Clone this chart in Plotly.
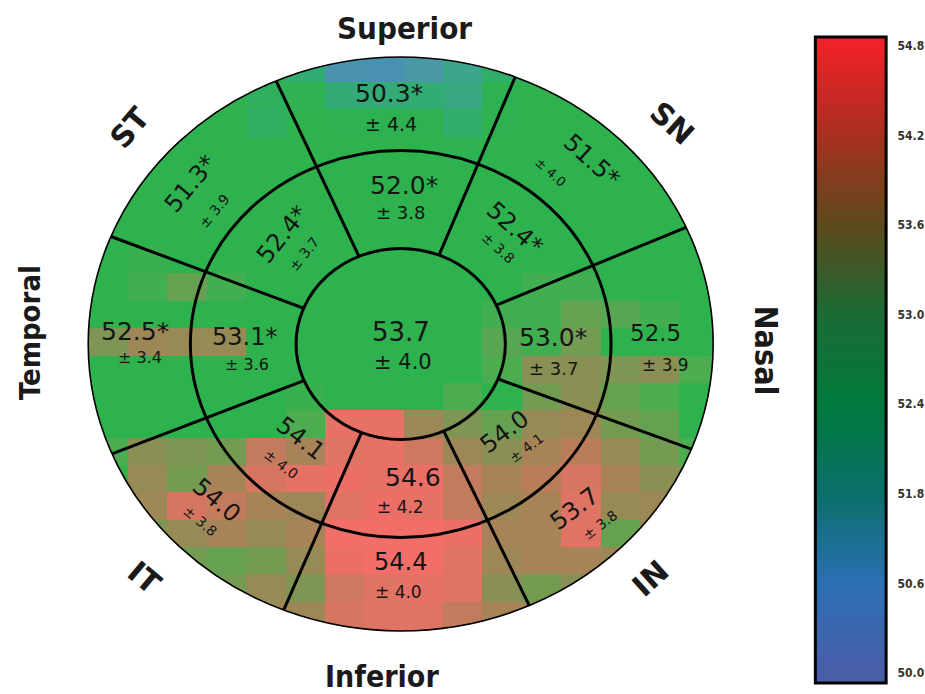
import numpy as np
import plotly.graph_objects as go

W, H = 925, 694
CX, CY = 402.0, 344.0          # ellipse centre (page pixels)

# ---------------- data ----------------
# pixel-map values (rows top -> bottom, columns left -> right)
map_rows = [
    [52.5, 52.5, 52.5, 52.5, 52.5, 51.6, 50.3, 50.2, 50.5, 51.0, 51.8, 52.5, 52.5, 52.5, 52.5, 52.5],
    [52.5, 52.5, 52.5, 52.5, 52.0, 52.2, 51.5, 51.5, 51.6, 51.3, 52.3, 52.5, 52.5, 52.5, 52.5, 52.5],
    [52.5, 52.5, 52.5, 52.5, 51.9, 52.5, 52.4, 52.4, 52.4, 51.7, 52.4, 52.5, 52.5, 52.5, 52.5, 52.5],
    [52.5, 52.5, 52.5, 52.5, 52.5, 52.5, 52.5, 52.5, 52.5, 52.2, 52.5, 52.5, 52.5, 52.5, 52.5, 52.5],
    [52.5, 52.5, 52.5, 52.5, 52.5, 52.5, 52.5, 52.5, 52.5, 52.5, 52.5, 52.5, 52.5, 52.5, 52.5, 52.5],
    [52.5, 52.5, 52.5, 52.5, 52.5, 52.5, 52.5, 52.5, 52.5, 52.5, 52.5, 52.5, 52.5, 52.5, 52.5, 52.5],
    [52.5, 52.5, 52.5, 52.5, 52.5, 52.5, 52.5, 52.5, 52.5, 52.5, 52.5, 52.5, 52.5, 52.5, 52.5, 52.5],
    [52.5, 52.8, 52.5, 52.5, 52.5, 52.5, 52.5, 52.5, 52.5, 52.5, 52.5, 52.5, 52.5, 52.5, 52.5, 52.5],
    [52.5, 52.9, 53.2, 52.9, 52.5, 52.5, 52.5, 52.5, 52.5, 52.5, 52.5, 52.9, 52.9, 52.5, 52.5, 52.5],
    [52.5, 52.5, 52.5, 52.5, 52.5, 52.5, 52.5, 52.5, 52.5, 52.5, 52.9, 52.9, 53.2, 53.1, 52.9, 52.5],
    [53.4, 53.7, 53.6, 53.6, 52.5, 52.5, 52.5, 52.5, 52.5, 52.5, 53.1, 52.9, 53.3, 52.5, 52.5, 52.5],
    [52.5, 52.5, 52.5, 52.5, 52.5, 52.5, 52.5, 52.5, 52.5, 52.5, 53.0, 53.5, 53.5, 53.4, 53.5, 53.0],
    [52.5, 52.5, 52.5, 52.5, 52.5, 52.8, 52.5, 52.5, 52.5, 53.0, 52.5, 53.3, 53.5, 53.2, 53.0, 52.5],
    [52.5, 52.5, 52.5, 52.5, 52.5, 53.0, 54.5, 54.5, 53.7, 53.4, 53.2, 53.6, 53.7, 53.3, 53.2, 52.5],
    [53.0, 53.5, 53.4, 53.3, 54.1, 53.8, 54.4, 54.5, 54.2, 53.7, 53.5, 53.8, 54.0, 53.6, 53.3, 53.0],
    [52.8, 53.6, 53.3, 53.8, 54.3, 54.5, 54.6, 54.5, 54.6, 54.1, 53.8, 54.0, 54.3, 53.8, 53.5, 53.3],
    [53.5, 53.7, 54.3, 54.1, 53.8, 53.7, 54.4, 54.6, 54.5, 54.1, 53.7, 53.8, 54.4, 53.6, 53.7, 53.5],
    [53.4, 53.4, 53.6, 53.8, 53.6, 53.8, 54.7, 54.7, 54.7, 54.6, 53.8, 53.8, 54.4, 53.2, 53.6, 53.5],
    [53.4, 53.4, 53.3, 53.2, 53.3, 53.6, 54.6, 54.7, 54.7, 54.4, 53.7, 53.8, 53.8, 53.7, 53.6, 53.5],
    [53.4, 53.4, 53.3, 53.3, 53.6, 53.4, 54.2, 54.4, 54.5, 54.4, 53.5, 53.3, 53.5, 53.5, 53.5, 53.5],
    [53.5, 53.5, 53.5, 53.5, 53.7, 53.7, 54.3, 54.4, 54.4, 54.1, 53.8, 53.7, 53.6, 53.5, 53.5, 53.5],
    [53.5, 53.5, 53.5, 53.5, 53.7, 53.7, 54.3, 54.4, 54.4, 54.1, 53.8, 53.7, 53.6, 53.5, 53.5, 53.5],
]

center_mean, center_sd = 53.7, 4.0
sector_names = ["Superior", "ST", "SN", "Temporal", "Nasal", "IT", "Inferior", "IN"]
inner_mean = [52.0, 52.4, 52.4, 53.1, 53.0, 54.1, 54.6, 54.0]
inner_sd = [3.8, 3.7, 3.8, 3.6, 3.7, 4.0, 4.2, 4.1]
inner_sig = [True, True, True, True, True, False, False, False]
outer_mean = [50.3, 51.3, 51.5, 52.5, 52.5, 54.0, 54.4, 53.7]
outer_sd = [4.4, 3.9, 4.0, 3.4, 3.9, 3.8, 4.0, 3.8]
outer_sig = [True, True, True, True, False, False, False, False]

cb_labels = ["50.0", "50.6", "51.8", "52.4", "53.0", "53.6", "54.2", "54.8"]
cb_colors = ["#4a5da8", "#2b6fb4", "#0b6f6a", "#00793c", "#1b6b36", "#5c4a1c", "#a8301f", "#ee2229"]

# ---------------- layout / styling ----------------
map_scale = [(50.0, "rgb(70,140,185)"), (50.4, "rgb(74,150,170)"), (51.0, "rgb(60,165,140)"),
             (51.6, "rgb(50,172,115)"), (52.2, "rgb(46,178,82)"), (52.7, "rgb(46,178,76)"),
             (53.0, "rgb(75,172,80)"), (53.3, "rgb(115,155,82)"), (53.6, "rgb(150,138,85)"),
             (53.9, "rgb(175,128,88)"), (54.2, "rgb(205,120,95)"), (54.5, "rgb(232,113,102)"),
             (54.8, "rgb(245,108,106)")]
ZMIN, ZMAX = 50.0, 54.8
colorscale = [[(v - ZMIN) / (ZMAX - ZMIN), c] for v, c in map_scale]

# geometry (pixels, relative to centre, y up)
A_OUT, B_OUT = 313.5, 287.0
A_MID, B_MID = 211.0, 193.5
A_IN, B_IN = 105.0, 95.5
CELL_W, CELL_H = 39.5, 27.36
GRID_X0, GRID_Y0 = 89.0 - CX, CY - 54.5
boundary_angles = [24, 68.5, 113.5, 158, 202.5, 248, 294.3, 338.5]

n_rows, n_cols = len(map_rows), len(map_rows[0])
xc = [GRID_X0 + CELL_W * (c + 0.5) for c in range(n_cols)]
yc = [GRID_Y0 - CELL_H * (r + 0.5) for r in range(n_rows)]

fig = go.Figure()
fig.add_trace(go.Heatmap(z=map_rows[::-1], x=xc, y=yc[::-1], zmin=ZMIN, zmax=ZMAX,
                         colorscale=colorscale, showscale=False, hoverinfo="skip"))

# colour bar as its own small heatmap
CB_LO, CB_HI = -0.112, 7.10
cb_y = list(np.linspace(CB_LO, CB_HI, 140))
cb_scale = [[i / (len(cb_colors) - 1), c] for i, c in enumerate(cb_colors)]
fig.add_trace(go.Heatmap(z=[[v] for v in cb_y], x=[0], y=cb_y, zmin=0, zmax=len(cb_labels) - 1,
                         colorscale=cb_scale, showscale=False, hoverinfo="skip",
                         xaxis="x2", yaxis="y2"))

shapes = []
# white mask outside the ellipse
t = np.linspace(0, 2 * np.pi, 361)
ex, ey = A_OUT * np.cos(t), B_OUT * np.sin(t)
path = "M " + " L ".join(f"{x:.2f},{y:.2f}" for x, y in zip(ex, ey)) + " Z"
path += " M -340,-340 L 340,-340 L 340,310 L -340,310 Z"
shapes.append(dict(type="path", path=path, xref="x", yref="y", fillcolor="white",
                   line=dict(width=0), fillrule="evenodd", layer="above"))
# ellipses
for (a, b, w) in [(A_OUT, B_OUT, 1.6), (A_MID, B_MID, 3), (A_IN, B_IN, 3)]:
    shapes.append(dict(type="circle", xref="x", yref="y", x0=-a, x1=a, y0=-b, y1=b,
                       line=dict(color="black", width=w), layer="above"))
# radial sector lines
for ang in boundary_angles:
    th = np.radians(ang)
    shapes.append(dict(type="line", xref="x", yref="y",
                       x0=A_IN * np.cos(th), y0=B_IN * np.sin(th),
                       x1=A_OUT * np.cos(th), y1=B_OUT * np.sin(th),
                       line=dict(color="black", width=3), layer="above"))
# colour bar frame
shapes.append(dict(type="rect", xref="x2 domain", yref="y2 domain", x0=0, x1=1, y0=0, y1=1,
                   line=dict(color="black", width=3)))

# label positions (pixel offsets from centre, y up), rotation, sizes
inner_pos = [((3, 159), (0, 132), 0), ((-119, 109), (-97, 90), -51), ((114, 116), (98, 96), 42),
             ((-157, 7), (-154, -20), 0), ((153, 7), (153, -24), 0), ((-101, -94), (-120, -120), 38),
             ((12, -133), (0, -163), 0), ((104, -88), (126, -104), -37)]
outer_pos = [((-12, 251), (-10, 220), 0), ((-211, 160), (-187, 133), -50), ((191, 184), (151, 172), 42),
             ((-267, 13), (-262, -13), 0), ((256, 11), (266, -21), 0), ((-185, -156), (-201, -177), 40),
             ((0, -218), (-2, -248), 0), ((174, -165), (200, -181), -37)]
inner_sd_size = [18, 14, 14, 16, 18, 14, 17, 14]
outer_sd_size = [19, 14, 13, 16, 17, 14, 17, 14]
inner_mean_size = [25, 24, 24, 24, 25, 24, 25, 24]
outer_mean_size = [25, 24, 24, 25, 23, 24, 24, 24]
NUM_FONT = "DejaVu Sans"
TXT = "#151515"
COND_FONT = "DejaVu Sans Condensed, Liberation Sans Narrow, Roboto, sans-serif"

ann = []
def add_text(txt, xy, size, angle=0):
    ann.append(dict(x=xy[0], y=xy[1], xref="x", yref="y", text=txt, showarrow=False,
                    textangle=angle, font=dict(family=NUM_FONT, size=size, color=TXT)))

add_text(f"{center_mean:.1f}", (0, 12), 26)
add_text(f"± {center_sd:.1f}", (2, -18), 21)
for i in range(len(sector_names)):
    mp, sp, ang = inner_pos[i]
    add_text(f"{inner_mean[i]:.1f}" + ("*" if inner_sig[i] else ""), mp, inner_mean_size[i], ang)
    add_text(f"± {inner_sd[i]:.1f}", sp, inner_sd_size[i], ang)
    mp, sp, ang = outer_pos[i]
    add_text(f"{outer_mean[i]:.1f}" + ("*" if outer_sig[i] else ""), mp, outer_mean_size[i], ang)
    add_text(f"± {outer_sd[i]:.1f}", sp, outer_sd_size[i], ang)

# direction labels
dir_labels = [("Superior", (4, 316), 0, COND_FONT, 31),
              ("Inferior", (-19, -332), 0, COND_FONT, 30),
              ("Temporal", (-372, 12), -90, COND_FONT, 29),
              ("Nasal", (366, -6), 90, COND_FONT, 32),
              ("ST", (-272, 217), -50, "DejaVu Sans", 30),
              ("SN", (273, 221), 42, "DejaVu Sans", 30),
              ("IT", (-257, -233), 40, "DejaVu Sans", 30),
              ("IN", (250, -234), -42, "DejaVu Sans", 30)]
for txt, xy, ang, fam, size in dir_labels:
    ann.append(dict(x=xy[0], y=xy[1], xref="x", yref="y", text=txt, showarrow=False,
                    textangle=ang, font=dict(family=fam, size=size, color="#1a1a1a", weight=700)))

fig.update_layout(
    width=W, height=H, margin=dict(l=0, r=0, t=0, b=0),
    paper_bgcolor="white", plot_bgcolor="white", showlegend=False,
    xaxis=dict(range=[-CX, W - CX], domain=[0, 1], visible=False, fixedrange=True),
    yaxis=dict(range=[CY - H, CY], domain=[0, 1], visible=False, fixedrange=True),
    xaxis2=dict(domain=[818 / W, 889 / W], range=[-0.5, 0.5], visible=False, anchor="y2"),
    yaxis2=dict(domain=[(H - 683) / H, (H - 37) / H], range=[CB_LO, CB_HI], anchor="x2",
                side="right", tickvals=list(range(len(cb_labels))), ticktext=cb_labels,
                ticks="outside", ticklen=8, tickcolor="rgba(0,0,0,0)", showgrid=False,
                zeroline=False, showline=False,
                tickfont=dict(family=COND_FONT, size=12, color="#333", weight=700)),
    shapes=shapes, annotations=ann,
)
fig.write_html("out.html")
